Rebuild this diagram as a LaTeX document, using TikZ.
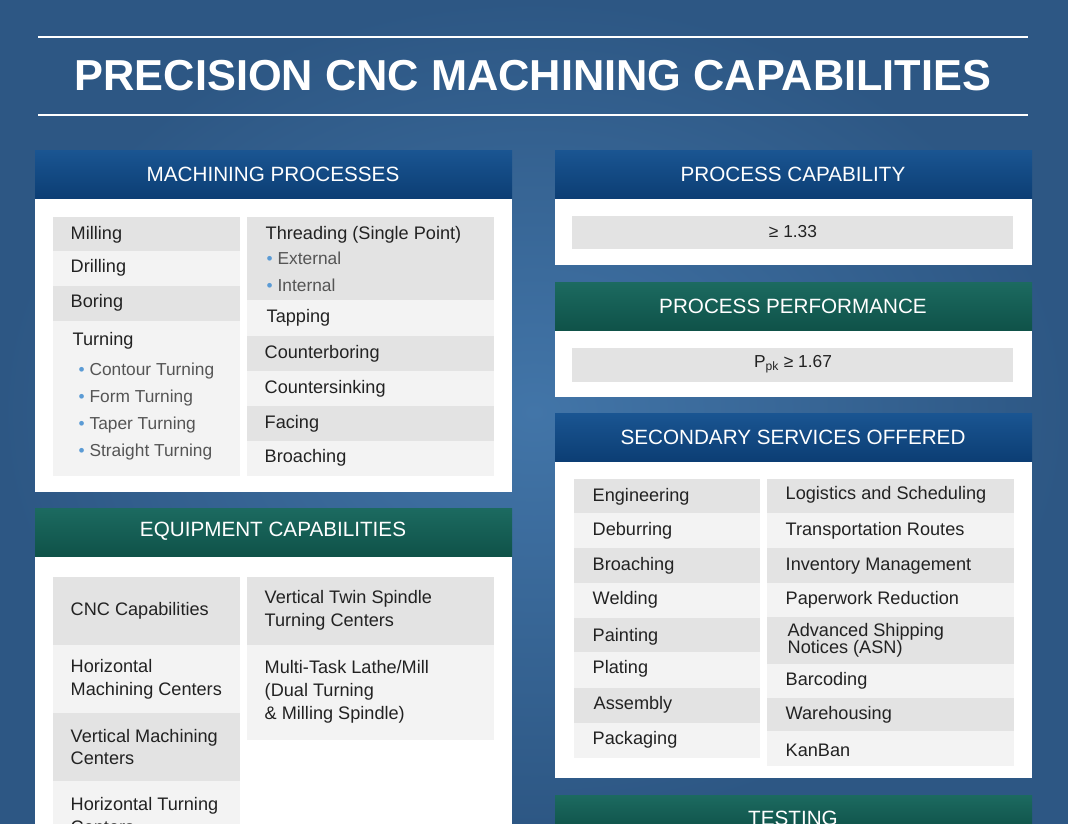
\documentclass[tikz,border=0pt]{standalone}
\usepackage{fontspec}
\setmainfont{Liberation Sans}
\begin{document}
\begin{tikzpicture}[x=0.75pt,y=-0.75pt,
  hdrblue/.style={top color=hb1,bottom color=hb2,draw=none},
  hdrteal/.style={top color=ht1,bottom color=ht2,draw=none},
  panel/.style={fill=white,draw=none},
  rowg/.style={fill=rowgray,draw=none},
  rowl/.style={fill=rowlight,draw=none},
  htext/.style={text=white,font=\fontsize{15.5}{18}\selectfont},
  itext/.style={text=txt,font=\fontsize{13.6}{17}\selectfont,anchor=west,align=left},
  stext/.style={text=subtxt,font=\fontsize{13}{15}\selectfont,anchor=west}]
\definecolor{hb1}{HTML}{1A5592}\definecolor{hb2}{HTML}{0C3E74}
\definecolor{ht1}{HTML}{1C6A60}\definecolor{ht2}{HTML}{0F5249}
\definecolor{rowgray}{HTML}{E3E3E3}\definecolor{rowlight}{HTML}{F3F3F3}
\definecolor{txt}{HTML}{222222}\definecolor{subtxt}{HTML}{555555}
\definecolor{bul}{HTML}{5B9BD5}
\definecolor{bg1}{HTML}{4275A8}\definecolor{bg2}{HTML}{2D5784}
\newcommand{\bl}{{\color{bul}\textbullet}\ }
\useasboundingbox (0,0) rectangle (1068,824);
\shade[inner color=bg1,outer color=bg2] (0,0) rectangle (1068,824);
% title
\draw[white,line width=0.8pt] (38,37) -- (1028,37);
\draw[white,line width=0.8pt] (38,115) -- (1028,115);
\node[text=white,font=\bfseries\fontsize{32.5}{36}\selectfont] (title) at (533,76) {PRECISION CNC MACHINING CAPABILITIES};
% ---------- machining processes
\fill[panel] (35,198) rectangle (512,492);
\fill[hdrblue] (35,150) rectangle (512,198);
\node[htext] (h1) at (273,174) {MACHINING PROCESSES};
\fill[rowg] (53,217) rectangle (240,251);
\fill[rowl] (53,251) rectangle (240,286);
\fill[rowg] (53,286) rectangle (240,321);
\fill[rowl] (53,321) rectangle (240,476);
\node[itext] (m1) at (66,235) {Milling};
\node[itext] (m2) at (66,268) {Drilling};
\node[itext] (m3) at (66,303) {Boring};
\node[itext] (m4) at (68,341) {Turning};
\node[stext] (m5) at (74,371) {\bl Contour Turning};
\node[stext] (m6) at (74,398) {\bl Form Turning};
\node[stext] (m7) at (74,425) {\bl Taper Turning};
\node[stext] (m8) at (74,452) {\bl Straight Turning};
\fill[rowg] (247,217) rectangle (494,300);
\fill[rowl] (247,300) rectangle (494,336);
\fill[rowg] (247,336) rectangle (494,371);
\fill[rowl] (247,371) rectangle (494,406);
\fill[rowg] (247,406) rectangle (494,441);
\fill[rowl] (247,441) rectangle (494,476);
\node[itext] (n1) at (261,235) {Threading (Single Point)};
\node[stext] (n2) at (262,258) {\bl External};
\node[stext] (n3) at (262,285) {\bl Internal};
\node[itext] (n4) at (262,318) {Tapping};
\node[itext] (n5) at (260,354) {Counterboring};
\node[itext] (n6) at (260,389) {Countersinking};
\node[itext] (n7) at (260,424) {Facing};
\node[itext] (n8) at (260,458) {Broaching};
% ---------- equipment
\fill[panel] (35,556) rectangle (512,830);
\fill[hdrteal] (35,508) rectangle (512,556);
\node[htext] (h2) at (273,531) {EQUIPMENT CAPABILITIES};
\fill[rowg] (53,577) rectangle (240,645);
\fill[rowl] (53,645) rectangle (240,713);
\fill[rowg] (53,713) rectangle (240,781);
\fill[rowl] (53,781) rectangle (240,830);
\fill[rowg] (247,577) rectangle (494,645);
\fill[rowl] (247,645) rectangle (494,740);
\node[itext] (e1) at (66,611) {CNC Capabilities};
\node[itext] (e2) at (66,679) {Horizontal\\Machining Centers};
\node[itext] (e3) at (66,747) {Vertical Machining\\Centers};
\node[itext,anchor=north west] (e4) at (66,793) {Horizontal Turning\\Centers};
\node[itext] (e5) at (260,610) {Vertical Twin Spindle\\Turning Centers};
\node[itext,anchor=north west] (e6) at (260,656) {Multi-Task Lathe/Mill\\(Dual Turning\\\& Milling Spindle)};
% ---------- process capability
\fill[panel] (555,198) rectangle (1032,265);
\fill[hdrblue] (555,150) rectangle (1032,198);
\node[htext] (h3) at (793,174) {PROCESS CAPABILITY};
\fill[rowg] (572,216) rectangle (1013,249);
\node[text=txt,font=\fontsize{13}{14}\selectfont] (pc) at (793,232) {≥ 1.33};
% ---------- process performance
\fill[panel] (555,330) rectangle (1032,397);
\fill[hdrteal] (555,282) rectangle (1032,330);
\node[htext] (h4) at (793,306) {PROCESS PERFORMANCE};
\fill[rowg] (572,348) rectangle (1013,382);
\node[text=txt,font=\fontsize{13}{14}\selectfont] (pp) at (793,364) {P\textsubscript{pk} ≥ 1.67};
% ---------- secondary
\fill[panel] (555,461) rectangle (1032,778);
\fill[hdrblue] (555,413) rectangle (1032,461);
\node[htext] (h5) at (793,437) {SECONDARY SERVICES OFFERED};
\foreach \a/\b/\s in {479/513/rowg,513/548/rowl,548/583/rowg,583/618/rowl,618/652/rowg,652/688/rowl,688/723/rowg,723/758/rowl}
  \fill[\s] (574,\a) rectangle (760,\b);
\foreach \a/\b/\s in {479/513/rowg,513/548/rowl,548/583/rowg,583/617/rowl,617/664/rowg,664/698/rowl,698/731/rowg,731/766/rowl}
  \fill[\s] (767,\a) rectangle (1014,\b);
\node[itext] (s1) at (588,497) {Engineering};
\node[itext] (s2) at (588,531) {Deburring};
\node[itext] (s3) at (588,566) {Broaching};
\node[itext] (s4) at (588,600) {Welding};
\node[itext] (s5) at (588,637) {Painting};
\node[itext] (s6) at (588,669) {Plating};
\node[itext] (s7) at (589,705) {Assembly};
\node[itext] (s8) at (588,740) {Packaging};
\node[itext] (t1) at (781,495) {Logistics and Scheduling};
\node[itext] (t2) at (781,531) {Transportation Routes};
\node[itext] (t3) at (781,566) {Inventory Management};
\node[itext] (t4) at (781,600) {Paperwork Reduction};
\node[itext,align=left,font=\fontsize{13.6}{13}\selectfont] (t5) at (783,640) {Advanced Shipping\\Notices (ASN)};
\node[itext] (t6) at (781,681) {Barcoding};
\node[itext] (t7) at (781,715) {Warehousing};
\node[itext] (t8) at (781,750) {KanBan};
% ---------- testing
\fill[hdrteal] (555,795) rectangle (1032,830);
\node[htext,anchor=north] (h6) at (793,806) {TESTING};
\end{tikzpicture}
\end{document}
